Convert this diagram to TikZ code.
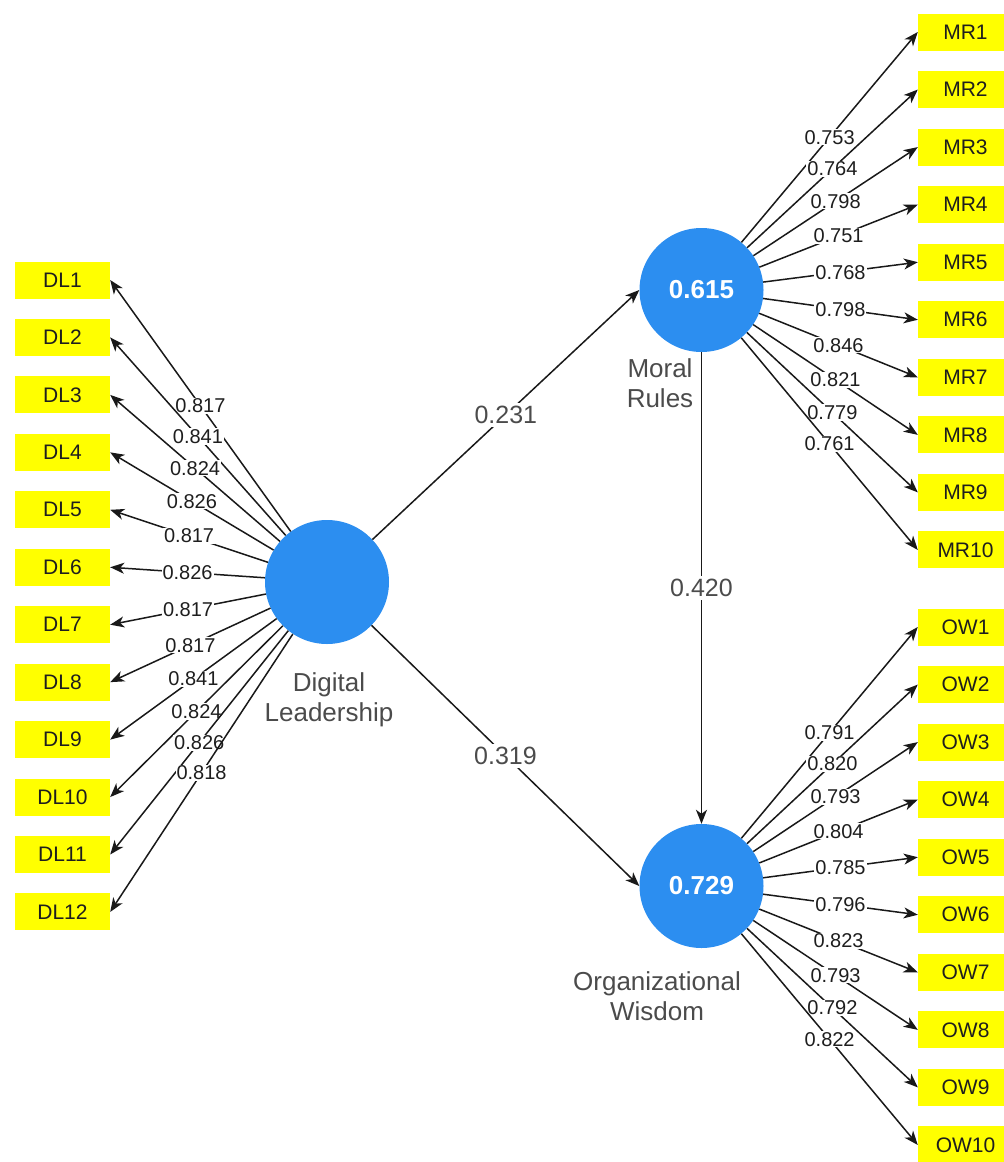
\documentclass[tikz,border=0pt]{standalone}
\usepackage{fontspec}
\setmainfont{Liberation Sans}
\usetikzlibrary{arrows.meta}
\definecolor{lvblue}{RGB}{44,142,240}
\definecolor{boxyellow}{RGB}{255,255,0}
\definecolor{txtdark}{RGB}{30,30,30}
\definecolor{txtgray}{RGB}{75,75,75}
\tikzset{
 latent/.style={circle,fill=lvblue,minimum size=124pt,inner sep=0pt,text=white,font=\fontsize{26}{30}\selectfont\bfseries},
 indic/.style={rectangle,fill=boxyellow,minimum width=95pt,minimum height=37pt,inner sep=0pt,text=txtdark,font=\fontsize{21}{25}\selectfont},
 ldarrow/.style={draw=black!90,line width=1.5pt,-{Stealth[length=14pt,width=11pt,inset=4pt]}},
 ldlabel/.style={fill=white,inner sep=1pt,text=txtdark,font=\fontsize{20}{22}\selectfont},
 pathlabel/.style={fill=white,inner sep=3pt,text=txtgray,font=\fontsize{25}{30}\selectfont},
 conlabel/.style={text=txtgray,align=center,font=\fontsize{26}{30}\selectfont},
}
\begin{document}
\begin{tikzpicture}[x=1pt,y=-1pt]
\useasboundingbox (0,0) rectangle (1004,1162);
\clip (0,0) rectangle (1004,1162);
% latent variables
\node[latent] (dl) at (327,582) {};
\node[latent] (mr) at (701.5,290) {0.615};
\node[latent] (ow) at (701.5,886) {0.729};
\node[conlabel] (dlname) at (329,700) {Digital\\Leadership};
\node[conlabel] (mrname) at (660,383) {Moral\\Rules};
\node[conlabel] (owname) at (657,996) {Organizational\\Wisdom};
% indicators
\foreach \i in {1,...,12}{
  \node[indic] (DL\i) at (62.5,{280+57.45*(\i-1)}) {DL\i};
}
\foreach \i in {1,...,10}{
  \node[indic] (MR\i) at (965.5,{32+57.55*(\i-1)}) {MR\i};
  \node[indic] (OW\i) at (965.5,{627+57.55*(\i-1)}) {OW\i};
}
% loadings
\foreach \v [count=\i] in {0.817,0.841,0.824,0.826,0.817,0.826,0.817,0.817,0.841,0.824,0.826,0.818}{
  \draw[ldarrow] (dl) -- (DL\i.east) node[midway,ldlabel] (ldl\i) {\v};
}
\foreach \v [count=\i] in {0.753,0.764,0.798,0.751,0.768,0.798,0.846,0.821,0.779,0.761}{
  \draw[ldarrow] (mr) -- (MR\i.west) node[midway,ldlabel] (lmr\i) {\v};
}
\foreach \v [count=\i] in {0.791,0.820,0.793,0.804,0.785,0.796,0.823,0.793,0.792,0.822}{
  \draw[ldarrow] (ow) -- (OW\i.west) node[midway,ldlabel] (low\i) {\v};
}
% structural paths
\draw[ldarrow] (dl) -- (mr.west) node[midway,pathlabel] (p1) {0.231};
\draw[ldarrow] (dl) -- (ow.west) node[midway,pathlabel] (p2) {0.319};
\draw[ldarrow] (mr) -- (ow.north) node[midway,pathlabel] (p3) {0.420};
\end{tikzpicture}
\end{document}
